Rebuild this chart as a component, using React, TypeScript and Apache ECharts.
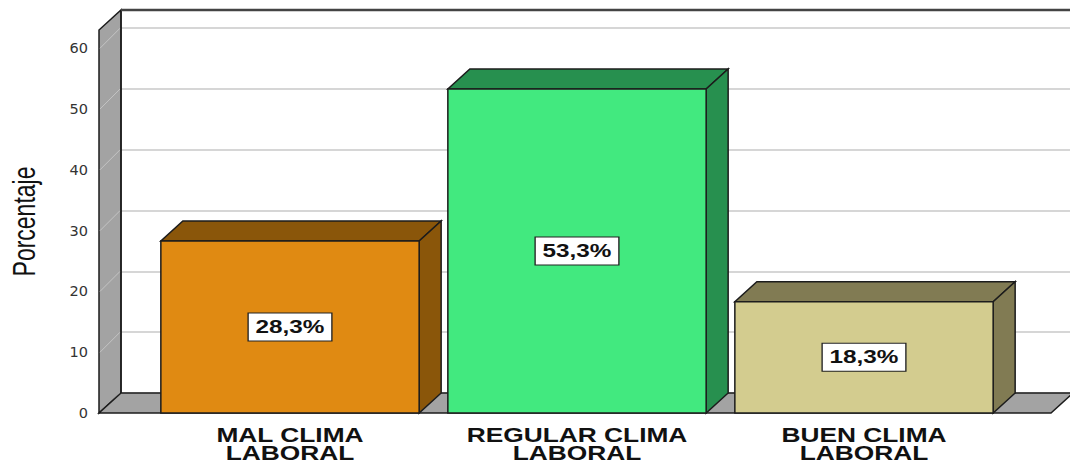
import { useEffect, useRef } from 'react';
import * as echarts from 'echarts';

// Chart data
const categories = ['MAL CLIMA\nLABORAL', 'REGULAR CLIMA\nLABORAL', 'BUEN CLIMA\nLABORAL'];
const percentages = [28.3, 53.3, 18.3];
const yTicks = [0, 10, 20, 30, 40, 50, 60];
const yMax = 63;
const yInterval = 10;
const axisTitle = 'Porcentaje';

// Bar colours: front face and shaded top/side faces
const faceColors = ['#E08A12', '#42E97F', '#D3CC8F'];
const shadeColors = ['#8A560A', '#27904F', '#817B53'];

// 3D look: depth offset of the back plane and horizontal text stretch
const DX = 22;
const DY = -20;
const STRETCH = 1.35;
const FONT = '"Liberation Sans", Arial, sans-serif';
const EDGE = '#1c1c1c';
const WALL = '#A3A3A3';
const WALL_OFFSET = 47.5; // distance from the first category band to the side wall
const FLOOR_EXTRA = 43.5; // floor overhang past the last category band

const fmtPct = (v: number) => v.toFixed(1).replace('.', ',') + '%';

export default function App() {
  const ref = useRef<HTMLDivElement>(null);

  useEffect(() => {
    if (!ref.current) return;
    const chart = echarts.init(ref.current, null, { renderer: 'svg' });

    const option: any = {
      animation: false,
      backgroundColor: '#ffffff',
      grid: [
        { left: 146.5, right: 62.5, top: 30, bottom: 51 },
        { left: 121, right: 0, top: 10, bottom: 71 },
      ],
      xAxis: [
        {
          type: 'category',
          gridIndex: 0,
          data: categories,
          axisLine: { show: false },
          axisTick: { show: false },
          axisLabel: { show: false },
        },
        { type: 'value', gridIndex: 1, show: false, min: 0, max: 1 },
      ],
      yAxis: [
        {
          type: 'value',
          gridIndex: 0,
          min: 0,
          max: yMax,
          interval: yInterval,
          offset: WALL_OFFSET,
          axisLine: { show: false },
          axisTick: { show: false },
          splitLine: { show: false },
          axisLabel: {
            formatter: (v: number) => (yTicks.includes(v) ? String(v) : ''),
            fontFamily: '"DejaVu Sans", sans-serif',
            fontSize: 14.5,
            color: '#333',
            margin: 11,
            verticalAlign: 'middle',
            padding: [7, 0, 0, 0],
          },
        },
        {
          type: 'value',
          gridIndex: 1,
          min: 0,
          max: yMax,
          interval: yInterval,
          axisLine: { show: false },
          axisTick: { show: false },
          axisLabel: { show: false },
          splitLine: { show: true, lineStyle: { color: '#d6d6d6', width: 2 } },
        },
      ],
      series: [
        {
          // side wall, floor, back edges and the axis title
          type: 'custom',
          xAxisIndex: 0,
          yAxisIndex: 0,
          silent: true,
          z: 1,
          data: [[0, 0]],
          renderItem: (params: any, api: any) => {
            const cs = params.coordSys;
            const yb = api.coord([0, 0])[1];
            const yt = api.coord([0, yMax])[1];
            const wx = cs.x - WALL_OFFSET;
            const fr = cs.x + cs.width + FLOOR_EXTRA;
            const children: any[] = [];
            children.push({
              type: 'polygon',
              shape: { points: [[wx, yb], [wx, yt], [wx + DX, yt + DY], [wx + DX, yb + DY]] },
              style: { fill: WALL, stroke: EDGE, lineWidth: 1.5 },
            });
            yTicks.forEach((t) => {
              const y = api.coord([0, t])[1];
              children.push({
                type: 'line',
                shape: { x1: wx + 1, y1: y, x2: wx + DX - 1, y2: y + DY },
                style: { stroke: '#c4c4c4', lineWidth: 1 },
              });
            });
            children.push({
              type: 'polygon',
              shape: { points: [[wx, yb], [fr, yb], [fr + DX, yb + DY], [wx + DX, yb + DY]] },
              style: { fill: WALL, stroke: EDGE, lineWidth: 1.5 },
            });
            children.push({
              type: 'line',
              shape: { x1: wx + DX, y1: yt + DY, x2: wx + DX, y2: yb + DY },
              style: { stroke: EDGE, lineWidth: 1.5 },
            });
            children.push({
              type: 'line',
              shape: { x1: wx + DX, y1: yt + DY, x2: api.getWidth(), y2: yt + DY },
              style: { stroke: '#444', lineWidth: 2.5 },
            });
            children.push({
              type: 'text',
              x: 24,
              y: (yb + yt) / 2,
              rotation: Math.PI / 2,
              scaleY: STRETCH,
              style: {
                text: axisTitle,
                fontFamily: FONT,
                fontSize: 23,
                fill: '#111',
                align: 'center',
                verticalAlign: 'middle',
              },
            });
            return { type: 'group', children };
          },
        },
        {
          // 3D bars with value boxes and category names
          type: 'custom',
          xAxisIndex: 0,
          yAxisIndex: 0,
          z: 3,
          data: percentages.map((v, i) => [i, v]),
          renderItem: (params: any, api: any) => {
            const i = api.value(0);
            const v = api.value(1);
            const [cx, yt] = api.coord([i, v]);
            const yb = api.coord([i, 0])[1];
            const w = api.size([1, 0])[0] * 0.9;
            const x0 = cx - w / 2;
            const x1 = cx + w / 2;
            const shade = shadeColors[i];
            return {
              type: 'group',
              children: [
                {
                  type: 'polygon',
                  shape: { points: [[x0, yt], [x1, yt], [x1 + DX, yt + DY], [x0 + DX, yt + DY]] },
                  style: { fill: shade, stroke: EDGE, lineWidth: 1.5 },
                },
                {
                  type: 'polygon',
                  shape: { points: [[x1, yt], [x1 + DX, yt + DY], [x1 + DX, yb + DY], [x1, yb]] },
                  style: { fill: shade, stroke: EDGE, lineWidth: 1.5 },
                },
                {
                  type: 'rect',
                  shape: { x: x0, y: yt, width: w, height: yb - yt },
                  style: { fill: faceColors[i], stroke: EDGE, lineWidth: 1.5 },
                },
                {
                  type: 'text',
                  x: cx,
                  y: (yt + yb) / 2,
                  scaleX: STRETCH,
                  style: {
                    text: fmtPct(v),
                    fontFamily: FONT,
                    fontWeight: 'bold',
                    fontSize: 18,
                    fill: '#111',
                    align: 'center',
                    verticalAlign: 'middle',
                    backgroundColor: '#ffffff',
                    borderColor: '#222',
                    borderWidth: 1,
                    padding: [5, 5, 4, 5],
                  },
                },
                {
                  type: 'text',
                  x: cx,
                  y: yb + 13,
                  scaleX: STRETCH,
                  style: {
                    text: categories[i],
                    fontFamily: FONT,
                    fontWeight: 'bold',
                    fontSize: 19.5,
                    lineHeight: 18,
                    fill: '#111',
                    align: 'center',
                    verticalAlign: 'top',
                  },
                },
              ],
            };
          },
        },
      ],
    };

    chart.setOption(option);
    return () => chart.dispose();
  }, []);

  return (
    <div
      ref={ref}
      style={{ position: 'absolute', left: 0, top: 0, width: 1070, height: 464 }}
    />
  );
}
